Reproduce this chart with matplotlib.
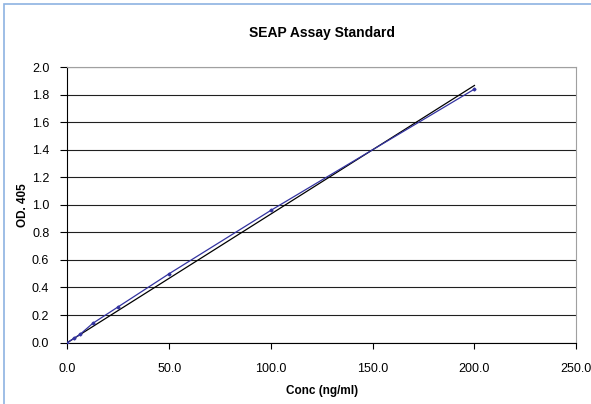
import numpy as np
import matplotlib
matplotlib.use('Agg')
import matplotlib.pyplot as plt
from matplotlib.patches import Rectangle

plt.rcParams['font.family'] = ['Liberation Sans', 'DejaVu Sans']

# standard curve data
conc = [0, 3.125, 6.25, 12.5, 25, 50, 100, 200]
od405 = [0, 0.03, 0.06, 0.14, 0.26, 0.50, 0.96, 1.84]
xticks = [0, 50, 100, 150, 200, 250]
yticks = [0, 0.2, 0.4, 0.6, 0.8, 1.0, 1.2, 1.4, 1.6, 1.8, 2.0]

fig = plt.figure(figsize=(5.91, 4.04), dpi=100)
ax = fig.add_axes([0.114, 0.152, 0.861, 0.682])

# chart frame (light blue)
fig.patches.append(Rectangle((4/591, -0.1), 1.2, 1.1 - 4/404,
                             transform=fig.transFigure, fill=False,
                             edgecolor='#8db3e2', lw=1.2))

# linear trendline through origin
x = np.array(conc)
y = np.array(od405)
slope = np.sum(x*y) / np.sum(x*x)
xt = np.array([0, 200])
ax.plot(xt, slope*xt, color='black', lw=0.9, zorder=3)

ax.plot(conc, od405, color='#3333a0', lw=0.9, marker='D', ms=1.5, zorder=4)

ax.set_xlim(0, 250)
ax.set_ylim(0, 2.0)
ax.set_xticks(xticks)
ax.set_xticklabels(['%.1f' % v for v in xticks])
ax.set_yticks(yticks)
ax.set_yticklabels(['%.1f' % v for v in yticks])
ax.tick_params(labelsize=9, width=0.8, color='black')
ax.tick_params(axis='x', length=4, pad=11)
ax.tick_params(axis='y', length=5, pad=8)
ax.yaxis.grid(True, color='#202020', lw=0.8)
ax.set_axisbelow(True)
for s in ['top', 'right']:
    ax.spines[s].set_color('#a0a0a0')
for s in ['left', 'bottom']:
    ax.spines[s].set_color('black')

ax.set_title('SEAP Assay Standard', fontsize=10, fontweight='bold', pad=22)
ax.set_xlabel('Conc (ng/ml)', fontsize=8.5, fontweight='bold', labelpad=7)
ax.set_ylabel('OD. 405', fontsize=8.5, fontweight='bold', labelpad=2)

plt.savefig('out.png', dpi=100)
